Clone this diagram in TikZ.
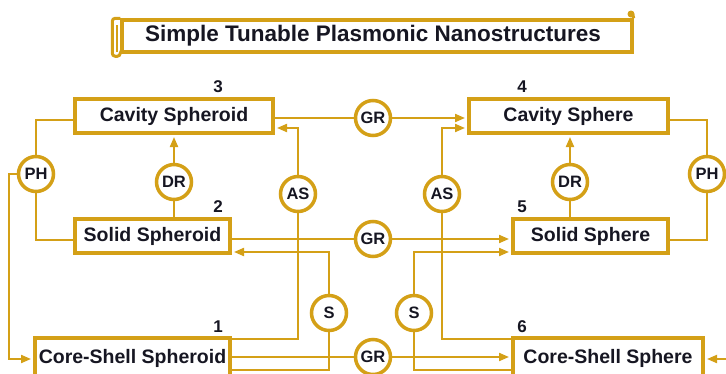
\documentclass[tikz,border=0pt]{standalone}
\usepackage{fontspec}
\setmainfont{Liberation Sans}
\usetikzlibrary{arrows.meta}
\definecolor{oro}{RGB}{212,160,23}
\definecolor{tinta}{RGB}{22,22,34}
\tikzset{
  caja/.style={draw=oro, line width=4pt, inner sep=0pt, minimum height=34pt, text=tinta, font=\bfseries\fontsize{19.5}{22}\selectfont},
  bola/.style={circle, draw=oro, line width=3.5pt, fill=white, inner sep=0pt, minimum size=35pt, text=tinta, font=\bfseries\fontsize{16.5}{18}\selectfont},
  num/.style={text=tinta, inner sep=0pt, font=\bfseries\fontsize{17}{18}\selectfont},
  linea/.style={draw=oro, line width=2pt},
  flecha/.style={linea, -{Triangle[length=10pt,width=8pt]}, shorten >=2pt},
}
\begin{document}
\begin{tikzpicture}[x=1pt, y=-1pt]
\useasboundingbox (0,0) rectangle (726,373);
\clip (0,0) rectangle (726,373);

% Titulo
\node [caja, line width=3.5pt, minimum width=510pt, minimum height=32pt, font=\bfseries\fontsize{22.5}{24}\selectfont] (titulo) at (377,36) {Simple Tunable Plasmonic Nanostructures\hspace*{8pt}};
\draw [oro, line width=3pt, rounded corners=3pt] (titulo.north west) -- ++(-8,0) -- ++(0,38) -- ++(8,0) -- (titulo.south west);
\draw [oro, line width=1.5pt] (117,25) -- (117,52);
\draw [oro, line width=3pt] (titulo.north east) -- ++(-1,-4);
\fill [oro] (631,14) circle (3.5);

% Cajas
\node [caja, minimum width=198pt] (b3) at (174,116) {Cavity Spheroid};
\node [caja, minimum width=199pt] (b4) at (568.5,116) {Cavity Sphere};
\node [caja, minimum width=155pt] (b2) at (152.5,236) {Solid Spheroid};
\node [caja, minimum width=155pt] (b5) at (590.5,236) {Solid Sphere};
\node [caja, minimum width=195pt, minimum height=40pt] (b1) at (132.5,358) {\raisebox{3pt}{Core-Shell Spheroid}};
\node [caja, minimum width=190pt, minimum height=40pt] (b6) at (608,358) {\raisebox{3pt}{Core-Shell Sphere}};

% Numeros
\node [num] (n3) at (218,87) {3};
\node [num] (n2) at (218,207) {2};
\node [num] (n1) at (218,327) {1};
\node [num] (n4) at (522,87) {4};
\node [num] (n5) at (522,207) {5};
\node [num] (n6) at (522,327) {6};

% Circulos
\node [bola] (ph1) at (36,174) {PH};
\node [bola] (dr1) at (174,182) {DR};
\node [bola] (as1) at (298,194) {AS};
\node [bola] (gr3) at (373,118) {GR};
\node [bola] (gr2) at (373,239) {GR};
\node [bola] (gr1) at (373,357) {GR};
\node [bola] (as2) at (442,194) {AS};
\node [bola] (dr2) at (570,182) {DR};
\node [bola] (ph2) at (707,174) {PH};
\node [bola] (s1) at (329,313) {S};
\node [bola] (s2) at (414,313) {S};

% Conexiones izquierda
\draw [linea] ([yshift=-4pt]b3.west) -| (ph1);
\draw [linea] (ph1) |- ([yshift=-4pt]b2.west);
\draw [flecha] (ph1.west) -- ++(-8,0) |- ([yshift=-1pt]b1.west);
\draw [linea] (b2.north -| dr1) -- (dr1);
\draw [flecha] (dr1) -- (dr1 |- b3.south);
\draw [linea] ([yshift=19pt]b1.east) -| (as1);
\draw [flecha] (as1) |- ([yshift=-12pt]b3.east);
\draw [linea] ([yshift=-12pt]b1.east) -| (s1);
\draw [flecha] (s1) |- ([yshift=-16pt]b2.east);

% Conexiones derecha
\draw [linea] ([yshift=-4pt]b4.east) -| (ph2);
\draw [linea] (ph2) |- ([yshift=-4pt]b5.east);
\draw [flecha] (ph2.east) -- ++(10,0) |- ([yshift=-1pt]b6.east);
\draw [linea] (b5.north -| dr2) -- (dr2);
\draw [flecha] (dr2) -- (dr2 |- b4.south);
\draw [linea] ([yshift=19pt]b6.west) -| (as2);
\draw [flecha] (as2) |- ([yshift=-12pt]b4.west);
\draw [linea] ([yshift=-12pt]b6.west) -| (s2);
\draw [flecha] (s2) |- ([yshift=-16pt]b5.west);

% GR
\draw [linea] (b3.east |- gr3) -- (gr3);
\draw [flecha] (gr3) -- (gr3 -| b4.west);
\draw [linea] (b2.east |- gr2) -- (gr2);
\draw [flecha] (gr2) -- (gr2 -| b5.west);
\draw [linea] (b1.east |- gr1) -- (gr1);
\draw [flecha] (gr1) -- (gr1 -| b6.west);
\end{tikzpicture}
\end{document}
